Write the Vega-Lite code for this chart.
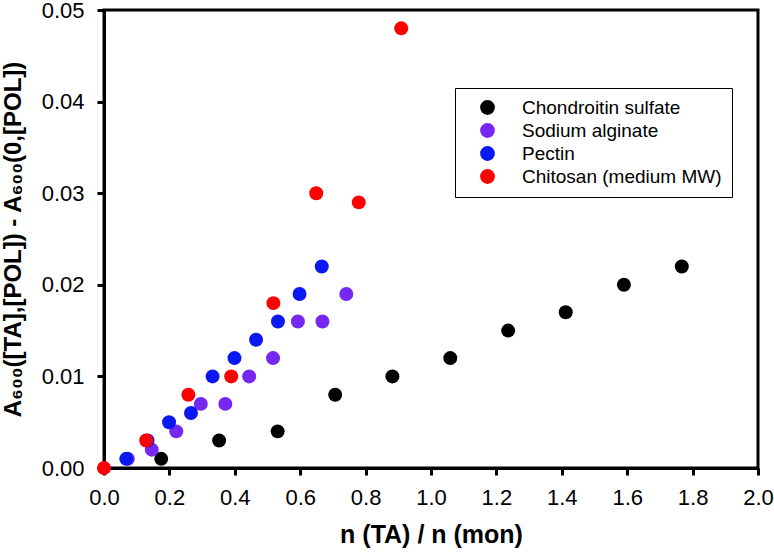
{
  "$schema": "https://vega.github.io/schema/vega-lite/v6.json",
  "autosize": "none",
  "width": 654,
  "height": 458,
  "padding": {"left": 104, "top": 10, "right": 16, "bottom": 84},
  "background": "white",
  "config": {
    "font": "Liberation Sans",
    "view": {"stroke": "black", "strokeWidth": 3},
    "axis": {
      "domainColor": "black", "domainWidth": 3,
      "tickColor": "black", "tickWidth": 3, "tickSize": 7,
      "grid": false,
      "labelFont": "Liberation Sans", "labelFontSize": 22, "labelColor": "black", "labelFlush": false,
      "titleFont": "Liberation Sans", "titleFontWeight": "bold", "titleColor": "black"
    }
  },
  "data": {
    "values": [
      {"series": "Chondroitin sulfate", "x": 0.175, "y": 0.001},
      {"series": "Chondroitin sulfate", "x": 0.352, "y": 0.003},
      {"series": "Chondroitin sulfate", "x": 0.531, "y": 0.004},
      {"series": "Chondroitin sulfate", "x": 0.707, "y": 0.008},
      {"series": "Chondroitin sulfate", "x": 0.882, "y": 0.010},
      {"series": "Chondroitin sulfate", "x": 1.059, "y": 0.012},
      {"series": "Chondroitin sulfate", "x": 1.236, "y": 0.015},
      {"series": "Chondroitin sulfate", "x": 1.412, "y": 0.017},
      {"series": "Chondroitin sulfate", "x": 1.590, "y": 0.020},
      {"series": "Chondroitin sulfate", "x": 1.767, "y": 0.022},
      {"series": "Sodium alginate", "x": 0.073, "y": 0.001},
      {"series": "Sodium alginate", "x": 0.146, "y": 0.002},
      {"series": "Sodium alginate", "x": 0.221, "y": 0.004},
      {"series": "Sodium alginate", "x": 0.296, "y": 0.007},
      {"series": "Sodium alginate", "x": 0.371, "y": 0.007},
      {"series": "Sodium alginate", "x": 0.444, "y": 0.010},
      {"series": "Sodium alginate", "x": 0.517, "y": 0.012},
      {"series": "Sodium alginate", "x": 0.593, "y": 0.016},
      {"series": "Sodium alginate", "x": 0.668, "y": 0.016},
      {"series": "Sodium alginate", "x": 0.741, "y": 0.019},
      {"series": "Pectin", "x": 0.068, "y": 0.001},
      {"series": "Pectin", "x": 0.133, "y": 0.003},
      {"series": "Pectin", "x": 0.199, "y": 0.005},
      {"series": "Pectin", "x": 0.266, "y": 0.006},
      {"series": "Pectin", "x": 0.332, "y": 0.010},
      {"series": "Pectin", "x": 0.399, "y": 0.012},
      {"series": "Pectin", "x": 0.465, "y": 0.014},
      {"series": "Pectin", "x": 0.532, "y": 0.016},
      {"series": "Pectin", "x": 0.598, "y": 0.019},
      {"series": "Pectin", "x": 0.666, "y": 0.022},
      {"series": "Chitosan (medium MW)", "x": 0.0, "y": 0.0},
      {"series": "Chitosan (medium MW)", "x": 0.129, "y": 0.003},
      {"series": "Chitosan (medium MW)", "x": 0.258, "y": 0.008},
      {"series": "Chitosan (medium MW)", "x": 0.389, "y": 0.010},
      {"series": "Chitosan (medium MW)", "x": 0.518, "y": 0.018},
      {"series": "Chitosan (medium MW)", "x": 0.649, "y": 0.030},
      {"series": "Chitosan (medium MW)", "x": 0.779, "y": 0.029},
      {"series": "Chitosan (medium MW)", "x": 0.909, "y": 0.048}
    ]
  },
  "mark": {"type": "point", "filled": true, "opacity": 1, "size": 195},
  "encoding": {
    "x": {
      "field": "x", "type": "quantitative",
      "scale": {"domain": [0, 2], "nice": false, "zero": false},
      "axis": {
        "title": "n (TA) / n (mon)",
        "values": [0, 0.2, 0.4, 0.6, 0.8, 1.0, 1.2, 1.4, 1.6, 1.8, 2.0],
        "format": ".1f",
        "labelPadding": 12,
        "titleFontSize": 25, "titlePadding": 14
      }
    },
    "y": {
      "field": "y", "type": "quantitative",
      "scale": {"domain": [0, 0.05], "nice": false, "zero": false},
      "axis": {
        "title": "A₆₀₀([TA],[POL]) - A₆₀₀(0,[POL])",
        "values": [0, 0.01, 0.02, 0.03, 0.04, 0.05],
        "format": ".2f",
        "labelPadding": 13,
        "titleFontSize": 24, "titlePadding": 16
      }
    },
    "color": {
      "field": "series", "type": "nominal",
      "scale": {
        "domain": ["Chondroitin sulfate", "Sodium alginate", "Pectin", "Chitosan (medium MW)"],
        "range": ["#000000", "#7628F0", "#0A18F2", "#FF0000"]
      },
      "legend": {
        "title": null,
        "orient": "none",
        "legendX": 351,
        "legendY": 78,
        "strokeColor": "black",
        "fillColor": "white",
        "padding": 10,
        "symbolType": "circle",
        "symbolSize": 218,
        "symbolStrokeWidth": 0,
        "symbolOffset": 13,
        "labelOffset": 25,
        "labelFont": "Liberation Sans",
        "labelFontSize": 19,
        "labelColor": "black",
        "rowPadding": 3,
        "labelLimit": 400
      }
    }
  }
}
